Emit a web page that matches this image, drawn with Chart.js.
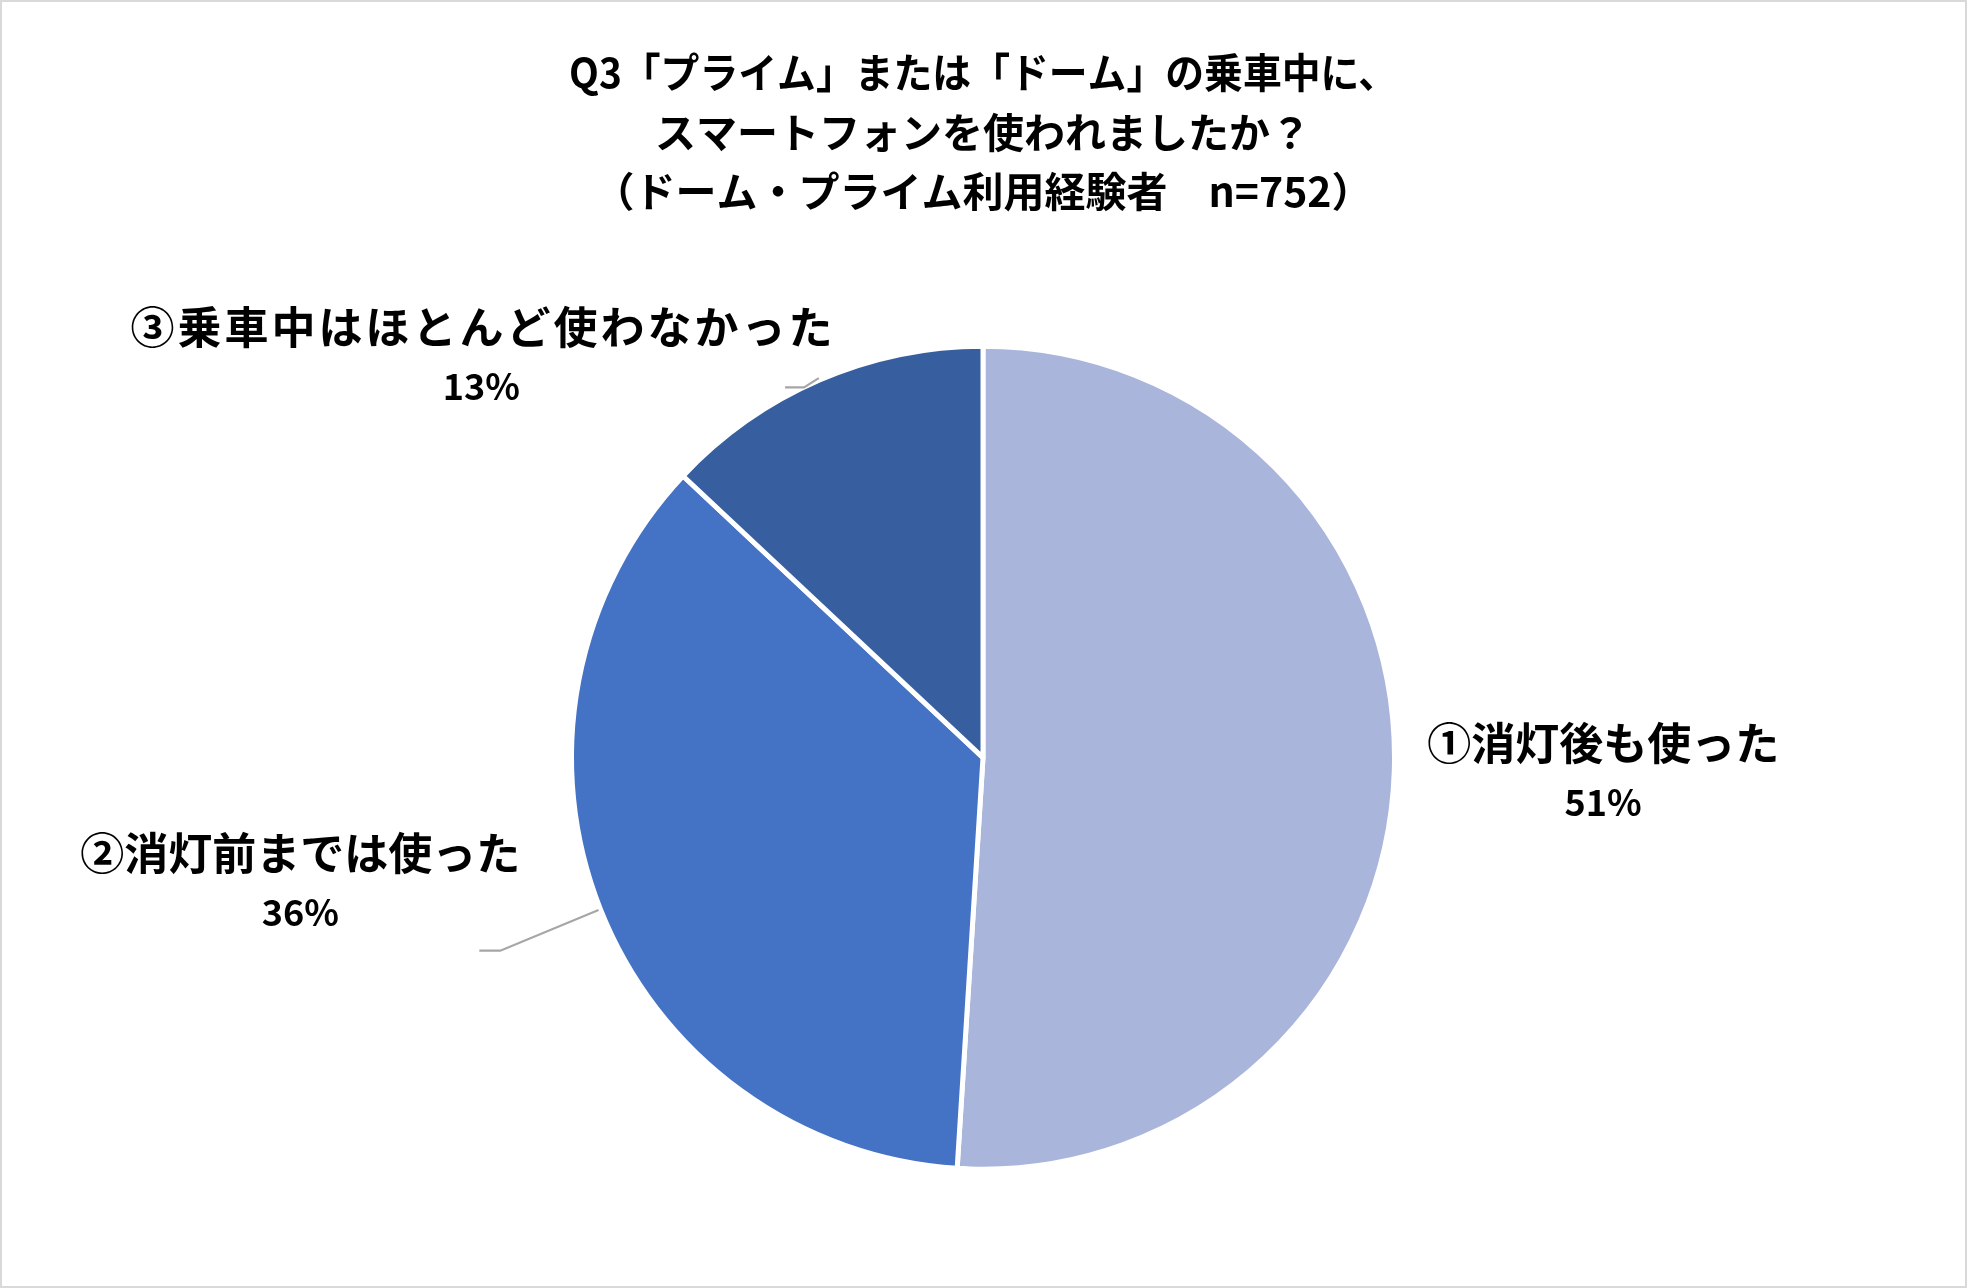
<!DOCTYPE html>
<html><head><meta charset="utf-8">
<script src="https://cdn.jsdelivr.net/npm/chart.js@4.4.1/dist/chart.umd.min.js"></script>
<style>html,body{margin:0;padding:0;background:#fff;}#wrap{width:1967px;height:1288px;}</style>
</head><body><div id="wrap"><canvas id="c" width="1967" height="1288"></canvas></div>
<script>
const categories = ['①消灯後も使った', '②消灯前までは使った', '③乗車中はほとんど使わなかった'];
const values = [51, 36, 13];
const valueLabels = ['51%', '36%', '13%'];
const titleLines = ['Q3「プライム」または「ドーム」の乗車中に、', 'スマートフォンを使われましたか？', '（ドーム・プライム利用経験者　n=752）'];
const colors = ['#A9B5DA', '#4472C4', '#375F9F'];

const FONT = '"Noto Sans CJK JP", "Noto Sans", sans-serif';
// label placement relative to pie centre (in radii units) and leader lines
const labelPos = [{dx: 1.507, dy: -0.034, sp: 0}, {dx: -1.659, dy: 0.232, sp: 0}, {dx: -1.219, dy: -1.045, sp: 3}];
const leaders = [null, {elbow: [-1.173, 0.469], end: [-1.224, 0.469]}, {elbow: [-0.435, -0.900], end: [-0.481, -0.900]}];

const plugin = {
  id: 'deco',
  beforeDraw(chart) {
    const ctx = chart.ctx;
    ctx.save();
    ctx.fillStyle = '#fff';
    ctx.fillRect(0, 0, chart.width, chart.height);
    ctx.strokeStyle = '#D9D9D9';
    ctx.lineWidth = 2;
    ctx.strokeRect(1, 1, chart.width - 2, chart.height - 2);
    ctx.restore();
  },
  afterDraw(chart) {
    const ctx = chart.ctx;
    const meta = chart.getDatasetMeta(0);
    ctx.save();
    meta.data.forEach((arc, i) => {
      const cx = arc.x, cy = arc.y, r = arc.outerRadius;
      const mid = (arc.startAngle + arc.endAngle) / 2;
      const L = leaders[i];
      if (L) {
        ctx.strokeStyle = '#A6A6A6';
        ctx.lineWidth = 2.2;
        ctx.beginPath();
        ctx.moveTo(cx + (r + 2) * Math.cos(mid), cy + (r + 2) * Math.sin(mid));
        ctx.lineTo(cx + L.elbow[0] * r, cy + L.elbow[1] * r);
        ctx.lineTo(cx + L.end[0] * r, cy + L.end[1] * r);
        ctx.stroke();
      }
      const p = labelPos[i];
      const x = cx + p.dx * r, y = cy + p.dy * r;
      ctx.fillStyle = '#000';
      ctx.textAlign = 'center';
      ctx.textBaseline = 'middle';
      ctx.font = 'bold 44px ' + FONT;
      ctx.letterSpacing = p.sp + 'px';
      ctx.fillText(categories[i], x + p.sp / 2, y);
      ctx.letterSpacing = '0px';
      ctx.font = 'bold 36px ' + FONT;
      ctx.fillText(valueLabels[i], x, y + 59);
    });
    ctx.restore();
  }
};

new Chart(document.getElementById('c'), {
  type: 'pie',
  data: {
    labels: categories,
    datasets: [{
      data: values,
      backgroundColor: colors,
      borderColor: '#FFFFFF',
      borderWidth: 5
    }]
  },
  options: {
    responsive: false,
    animation: false,
    layout: {padding: {left: 569, right: 570, top: 0, bottom: 116}},
    plugins: {
      legend: {display: false},
      tooltip: {enabled: false},
      title: {
        display: true,
        text: titleLines,
        color: '#000',
        font: {family: FONT, size: 41, weight: 'bold', lineHeight: 1.45},
        padding: {top: 43, bottom: 122}
      }
    }
  },
  plugins: [plugin]
});
</script></body></html>
